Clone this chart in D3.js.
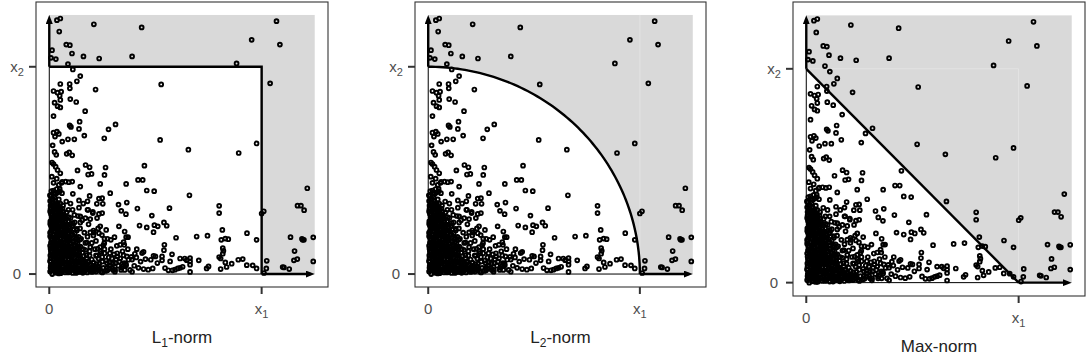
<!DOCTYPE html>
<html>
<head>
<meta charset="utf-8">
<script src="https://cdn.jsdelivr.net/npm/d3@7"></script>
<style>
  body { margin: 0; background: #fff; }
  svg { display: block; font-family: "Liberation Sans", Arial, sans-serif; }
</style>
</head>
<body>
<div id="chart"></div>
<script>
// same sample of points shown in every panel (x1 = 1, x2 = 1)
const points = [
  [.036,1.225],[.052,1.233],[.047,1.17],[.21,1.205],[.435,1.19],[1.07,1.22],[.953,1.13],[1.086,1.107],[.013,1.08],[.08,1.107],
  [.097,1.104],[.107,1.064],[.008,1.043],[.031,1.037],[.161,1.05],[.235,1.04],[.39,1.05],[.088,1.013],[.882,1.016],
  [1.04,.92],[.527,.915],[.218,.89],[.111,.987],[.146,.955],[.13,.93],[.096,.917],[.052,.917],[.097,.896],[.02,.883],
  [.039,.875],[.056,.88],[.049,.86],[.052,.84],[.099,.844],[.025,.827],[.039,.81],[.052,.804],[.127,.83],[.169,.786],
  [.02,.762],[.143,.735],[.096,.717],[.102,.71],[.14,.70],[.02,.682],[.036,.687],[.045,.676],[.027,.663],[.061,.639],
  [.088,.65],[.118,.65],[.165,.668],[.279,.698],[.312,.722],[.259,.655],[.522,.647],[.655,.60],[.976,.63],[.892,.584],
  [.016,.621],[.025,.589],[.033,.575],[.082,.58],[.094,.587],[.108,.573],[.013,.538],[.02,.531],[.03,.518],[.039,.502],
  [.052,.486],[.133,.50],[.171,.526],[.19,.515],[.183,.48],[.199,.483],[.265,.514],[.26,.478],[.448,.523],[.418,.454],
  [.44,.454],[.362,.435],[.24,.435],[.287,.39],[.02,.403],[.039,.393],[.049,.412],[.061,.445],[.077,.446],[.092,.443],
  [.108,.446],[.146,.422],[.111,.387],[.14,.355],[.18,.351],[.19,.377],[.234,.364],[.249,.366],[.252,.339],[.459,.403],
  [.494,.40],[.66,.38],[1.215,.414],[1.169,.33],[1.185,.33],[1.20,.308],[1.0,.292],[1.01,.303],[.80,.329],[.80,.294],
  [.566,.318],[.415,.316],[.483,.282],[.365,.345],[.326,.335],[.339,.305],[.361,.289],[.425,.234],[.459,.225],[.495,.236],
  [.511,.23],[.54,.249],[.553,.233],[.491,.202],[.328,.23],[.355,.205],[.694,.181],[.745,.185],[.597,.175],[.815,.213],
  [.81,.165],[.843,.168],[.829,.171],[.931,.197],[.976,.165],[1.136,.178],[1.19,.17],[1.199,.165],[1.243,.177],[1.193,.165],
  [1.155,.111],[1.152,.066],[1.168,.072],[1.243,.061],[1.099,.034],[1.105,.032],[1.13,.024],[1.024,.064],[1.022,.027],[1.011,.005],
  [.817,.125],[.82,.112],[.817,.098],[.80,.082],[.807,.075],[.829,.056],[.835,.034],[.807,.024],[.859,.05],[.89,.069],
  [.911,.072],[.93,.043],[.958,.042],[.976,.027],[.741,.027],[.75,.037],[.704,.066],[.663,.077],[.663,.061],[.663,.045],
  [.647,.067],[.638,.075],[.663,.01],[.628,.035],[.616,.03],[.605,.027],[.592,.021],[.58,.018],[.561,.018],[.616,.075],
  [.578,.095],[.542,.141],[.54,.115],[.531,.085],[.531,.066],[.509,.053],[.569,.061],[.545,.029],[.487,.027],[.466,.021],
  [.444,.024],[.491,.088],[.50,.085],[.478,.069],[.453,.072],[.444,.107],[.437,.101],[.412,.12],[.403,.098],[.386,.083],
  [.373,.069],[.39,.011],[.362,.043],[.353,.053],[.346,.037],[.334,.075],[.321,.085],[.312,.053],[.309,.011],[.296,.03],
  [.287,.043],[.271,.053],[.274,.018],[.281,.027],[.318,.136],[.334,.141],[.35,.154],[.362,.178],[.371,.178],[.353,.141],
  [.307,.178],[.29,.165],[.274,.17],[.259,.149],[.248,.188],[.268,.213],[.24,.23],[.234,.197],[.208,.21],[.208,.186],
  [.193,.201],[.177,.152],[.193,.13],[.227,.122],[.24,.109],[.224,.088],[.249,.082],[.208,.053],[.234,.037],[.193,.024],
  [.174,.043],[.13,.133],[.143,.165],[.193,.265],[.205,.294],[.183,.31],[.146,.249],[.146,.278],[.111,.246],[.13,.218],
  [.234,.29],[.249,.294],[.224,.339],
  // dense corner near the origin
  [.01,.02],[.02,.05],[.005,.09],[.03,.01],[.015,.13],[.04,.07],[.025,.17],[.05,.03],[.01,.21],[.035,.11],
  [.055,.15],[.02,.25],[.045,.2],[.008,.29],[.03,.28],[.05,.24],[.015,.33],[.04,.32],[.025,.37],[.055,.3],
  [.01,.4],[.035,.41],[.045,.36],[.02,.44],[.06,.39],[.005,.06],[.028,.08],[.042,.14],[.012,.17],[.058,.09],
  [.022,.12],[.038,.04],[.05,.12],[.018,.19],[.032,.22],[.006,.24],[.048,.27],[.024,.31],[.012,.36],[.04,.26],
  [.058,.21],[.03,.35],[.052,.34],[.016,.27],[.006,.33],[.026,.02],[.044,.01],[.014,.0],[.036,.16],[.06,.05],
  [.008,.15],[.034,.19],[.02,.09],[.046,.09],[.054,.19],[.004,.2],[.028,.24],[.05,.06],[.018,.04],[.04,.22],
  [.01,.11],[.03,.13],[.06,.27],[.022,.39],[.045,.43],[.012,.47],[.035,.46],[.058,.44],[.003,.38],[.05,.4],
  [.07,.02],[.09,.05],[.08,.09],[.11,.02],[.1,.12],[.07,.14],[.13,.06],[.12,.1],[.09,.17],[.14,.13],
  [.075,.2],[.11,.19],[.13,.21],[.085,.24],[.1,.27],[.07,.28],[.12,.25],[.145,.22],[.09,.31],[.065,.33],
  [.11,.31],[.08,.35],[.135,.28],[.15,.03],[.14,.09],[.15,.17],[.065,.08],[.095,.01],[.125,.015],[.085,.13],
  [.105,.07],[.068,.17],[.118,.14],[.095,.21],[.078,.05],[.135,.01],[.142,.045],[.128,.175],[.108,.23],[.072,.24],
  [.092,.275],[.118,.285],[.066,.3],[.1,.34],[.14,.32],[.125,.04],[.088,.1],[.112,.16],[.132,.11],[.082,.185],
  [.155,.07],[.16,.12],[.165,.2],[.155,.26],[.17,.03],[.175,.09],[.16,.015],[.17,.15],[.185,.06],[.18,.18],
  [.19,.11],[.195,.02],[.2,.15],[.185,.24],
  [.004,.012],[.018,.026],[.033,.006],[.047,.021],[.061,.013],[.076,.028],[.089,.008],[.104,.019],[.117,.03],[.131,.011],
  [.146,.024],[.158,.006],[.172,.018],[.187,.029],[.201,.01],[.214,.022],[.228,.033],[.243,.012],
  [.011,.045],[.026,.058],[.04,.041],[.054,.052],[.068,.06],[.082,.043],[.097,.055],[.111,.047],[.124,.061],[.138,.04],
  [.152,.053],[.166,.046],[.181,.058],[.194,.042],[.209,.055],[.222,.048],
  [.006,.075],[.021,.088],[.035,.072],[.049,.085],[.063,.078],[.077,.091],[.092,.073],[.106,.086],[.12,.079],[.134,.09],
  [.148,.074],[.162,.087],[.176,.077],[.19,.089],
  [.013,.104],[.027,.117],[.042,.101],[.056,.113],[.07,.106],[.085,.119],[.099,.102],[.113,.115],[.127,.108],[.141,.12],
  [.156,.103],[.17,.116],
  [.004,.136],[.019,.147],[.033,.131],[.047,.143],[.061,.138],[.076,.149],[.09,.133],[.104,.145],[.119,.137],[.133,.148],
  [.147,.132],
  [.011,.164],[.025,.176],[.04,.161],[.054,.173],[.068,.166],[.082,.178],[.097,.162],[.111,.174],[.125,.167],[.138,.179],
  [.006,.194],[.02,.206],[.034,.191],[.049,.203],[.063,.196],[.077,.208],[.091,.192],[.105,.204],[.12,.197],
  [.013,.224],[.027,.236],[.041,.221],[.055,.233],[.069,.226],[.084,.238],[.098,.222],[.112,.234],
  [.005,.254],[.019,.266],[.033,.251],[.047,.263],[.061,.256],[.075,.268],[.089,.252],
  [.012,.284],[.026,.296],[.04,.281],[.054,.293],[.068,.286],[.082,.298],
  [.006,.314],[.02,.326],[.034,.311],[.048,.323],[.062,.316],
  [.013,.344],[.027,.356],[.041,.341],[.007,.374],[.03,.386],
  [.011,.033],[.025,.017],[.04,.03],[.054,.004],[.068,.024],[.083,.016],[.096,.032],[.11,.005],[.124,.02],[.139,.027],
  [.153,.013],[.165,.031],[.179,.008],[.193,.016],
  [.004,.063],[.018,.07],[.033,.061],[.047,.068],[.061,.064],[.075,.071],[.09,.066],[.104,.06],[.118,.069],[.131,.063],
  [.145,.07],[.159,.062],
  [.013,.093],[.028,.098],[.042,.09],[.056,.097],[.07,.092],[.084,.1],[.099,.094],[.113,.097],[.127,.093],[.141,.1],
  [.006,.122],[.02,.128],[.035,.12],[.049,.127],[.063,.123],[.077,.13],[.092,.121],[.106,.128],[.12,.124],[.134,.129],
  [.012,.152],[.026,.157],[.041,.15],[.055,.158],[.069,.153],[.083,.16],[.098,.151],[.112,.157],[.126,.153],
  [.004,.182],[.018,.188],[.033,.181],[.047,.189],[.061,.184],[.075,.19],[.09,.182],[.104,.187],
  [.012,.212],[.026,.218],[.041,.211],[.055,.217],[.07,.213],[.084,.22],[.098,.211],
  [.005,.242],[.019,.248],[.034,.241],[.048,.247],[.062,.243],[.076,.249],
  [.012,.272],[.026,.278],[.04,.271],[.055,.277],[.069,.273],
  [.004,.302],[.018,.308],[.033,.301],[.047,.306],
  [.011,.332],[.025,.338],[.039,.33],[.018,.362],[.004,.352],
  [.007,.04],[.021,.036],[.036,.049],[.05,.044],[.064,.037],[.079,.048],[.093,.041],[.107,.035],[.121,.05],[.135,.056],
  [.16,.04],[.175,.05],[.19,.035],[.205,.028],[.22,.012],[.236,.024],
  [.008,.108],[.022,.102],[.037,.111],[.051,.105],[.066,.116],[.08,.109],[.094,.112],[.108,.104],
  [.01,.172],[.024,.166],[.038,.179],[.053,.168],[.067,.18],[.081,.17],[.095,.177],
  [.009,.232],[.023,.228],[.037,.237],[.051,.229],[.066,.236],[.08,.23],
  [.015,.26],[.029,.258],[.043,.267],[.058,.262],[.016,.29],[.03,.292],[.044,.289],[.058,.286],
  [.01,.318],[.024,.316],[.038,.32],[.052,.313],
  [.006,.03],[.045,.003],[.075,.008],[.1,.028],[.126,.005],[.15,.01],[.182,.022],[.21,.015],[.25,.008],
  [.255,.03],[.268,.065],[.285,.1],[.3,.02],[.305,.095],[.325,.04],[.338,.02],[.245,.1],[.232,.075],[.218,.035],
  [.285,.055],[.26,.12],
  [.21,.04],[.22,.09],[.23,.02],[.24,.13],[.25,.06],[.26,.1],[.27,.03],[.28,.08],[.29,.12],[.3,.05],
  [.31,.02],[.32,.1],[.33,.06],[.34,.03],[.35,.09],[.36,.05],[.37,.12],[.38,.02],[.39,.07],[.4,.04],
  [.41,.08],[.42,.03],[.43,.06],[.22,.16],[.26,.17],[.215,.12],[.235,.05],[.255,.14],[.265,.015],[.295,.075],
  [.315,.07],[.345,.11],[.355,.02],[.365,.085],[.21,.2],[.23,.22],[.2,.07],[.225,.27],[.205,.3],[.17,.27],
  [.18,.31],[.16,.34]
];

const normKinds = ["square", "circle", "diamond"];
const titleMain = ["L", "L", "Max-norm"];
const titleSub = ["1", "2", ""];
const titleRest = ["-norm", "-norm", ""];
const tickValues = [0, 1];
const xTickLabels = [["0", ""], ["x", "1"]];
const yTickLabels = [["0", ""], ["x", "2"]];
const axisMax = 1.25;

// panel frames in page pixels
const frames = [
  { left: 36, top: 2, width: 292, height: 285 },
  { left: 415, top: 2, width: 291, height: 285 },
  { left: 793, top: 2, width: 292, height: 294 }
];

const svg = d3.select("#chart").append("svg")
  .attr("width", 1087)
  .attr("height", 363);

svg.append("defs").append("marker")
  .attr("id", "arrow")
  .attr("viewBox", "0 0 10 10")
  .attr("preserveAspectRatio", "none")
  .attr("refX", 5.5)
  .attr("refY", 5)
  .attr("markerWidth", 9)
  .attr("markerHeight", 7)
  .attr("markerUnits", "userSpaceOnUse")
  .attr("orient", "auto")
  .append("path")
  .attr("d", "M0,0L10,5L0,10Z")
  .attr("fill", "#000");

const pad = axisMax * 0.05;

normKinds.forEach((kind, i) => {
  const f = frames[i];
  const x = d3.scaleLinear().domain([-pad, axisMax + pad]).range([f.left, f.left + f.width]);
  const y = d3.scaleLinear().domain([-pad, axisMax + pad]).range([f.top + f.height, f.top]);
  const g = svg.append("g");

  // grey area of the whole positive quadrant
  g.append("rect")
    .attr("x", x(0)).attr("y", y(axisMax))
    .attr("width", x(axisMax) - x(0))
    .attr("height", y(0) - y(axisMax))
    .attr("fill", "#d9d9d9");

  // faint seams between grey pieces
  const seams = [];
  if (kind === "circle") seams.push([[1, 0], [1, axisMax]]);
  if (kind === "diamond") { seams.push([[0, 1], [1, 1]]); seams.push([[1, 0], [1, 1]]); }
  seams.forEach(s => {
    g.append("line")
      .attr("x1", x(s[0][0])).attr("y1", y(s[0][1]))
      .attr("x2", x(s[1][0])).attr("y2", y(s[1][1]))
      .attr("stroke", "#e6e6e6").attr("stroke-width", 0.8);
  });

  // boundary of the unit ball (only the outer edge)
  let edge;
  if (kind === "square") edge = [[0, 1], [1, 1], [1, 0]];
  else if (kind === "diamond") edge = [[0, 1], [1, 0]];
  else edge = d3.range(0, 91).map(a => [Math.sin(a * Math.PI / 180), Math.cos(a * Math.PI / 180)]);

  const line = d3.line().x(d => x(d[0])).y(d => y(d[1]));

  g.append("path")
    .attr("d", line([[0, 0]].concat(edge)) + "Z")
    .attr("fill", "#fff")
    .attr("stroke", "#000")
    .attr("stroke-width", 1);

  g.append("path")
    .attr("d", line(edge))
    .attr("fill", "none")
    .attr("stroke", "#000")
    .attr("stroke-width", 2.4);

  // points
  g.append("g").selectAll("circle")
    .data(points)
    .join("circle")
    .attr("cx", d => x(d[0]))
    .attr("cy", d => y(d[1]))
    .attr("r", 1.9)
    .attr("fill", "none")
    .attr("stroke", "#000")
    .attr("stroke-width", 1.9);

  // axis arrows beyond the ball
  g.append("line")
    .attr("x1", x(1)).attr("y1", y(0))
    .attr("x2", x(axisMax) - 4).attr("y2", y(0))
    .attr("stroke", "#000").attr("stroke-width", 2.4)
    .attr("marker-end", "url(#arrow)");
  g.append("line")
    .attr("x1", x(0)).attr("y1", y(1))
    .attr("x2", x(0)).attr("y2", y(axisMax) + 4)
    .attr("stroke", "#000").attr("stroke-width", 2.4)
    .attr("marker-end", "url(#arrow)");

  // panel frame
  g.append("rect")
    .attr("x", f.left).attr("y", f.top)
    .attr("width", f.width).attr("height", f.height)
    .attr("fill", "none")
    .attr("stroke", "#333")
    .attr("stroke-width", 1.1);

  const bottom = f.top + f.height;

  // ticks and labels
  tickValues.forEach((t, j) => {
    g.append("line")
      .attr("x1", x(t)).attr("x2", x(t))
      .attr("y1", bottom).attr("y2", bottom + 7)
      .attr("stroke", "#333").attr("stroke-width", 2);
    g.append("line")
      .attr("x1", f.left - 7).attr("x2", f.left)
      .attr("y1", y(t)).attr("y2", y(t))
      .attr("stroke", "#333").attr("stroke-width", 2);

    const xl = g.append("text")
      .attr("x", x(t)).attr("y", bottom + 27)
      .attr("text-anchor", "middle")
      .attr("font-size", 15).attr("fill", "#4d4d4d");
    xl.append("tspan").text(xTickLabels[j][0]);
    if (xTickLabels[j][1]) xl.append("tspan").attr("dy", 4).attr("font-size", 11).text(xTickLabels[j][1]);

    const yl = g.append("text")
      .attr("x", f.left - 19).attr("y", y(t) + 5)
      .attr("text-anchor", "middle")
      .attr("font-size", 15).attr("fill", "#4d4d4d");
    yl.append("tspan").text(yTickLabels[j][0]);
    if (yTickLabels[j][1]) yl.append("tspan").attr("dy", 4).attr("font-size", 11).text(yTickLabels[j][1]);
  });

  // panel title
  const title = g.append("text")
    .attr("x", (x(0) + x(axisMax)) / 2)
    .attr("y", bottom + 56)
    .attr("text-anchor", "middle")
    .attr("font-size", 17)
    .attr("fill", "#222");
  title.append("tspan").text(titleMain[i]);
  if (titleSub[i]) {
    title.append("tspan").attr("dy", 4).attr("font-size", 12).text(titleSub[i]);
    title.append("tspan").attr("dy", -4).text(titleRest[i]);
  }
});
</script>
</body>
</html>
